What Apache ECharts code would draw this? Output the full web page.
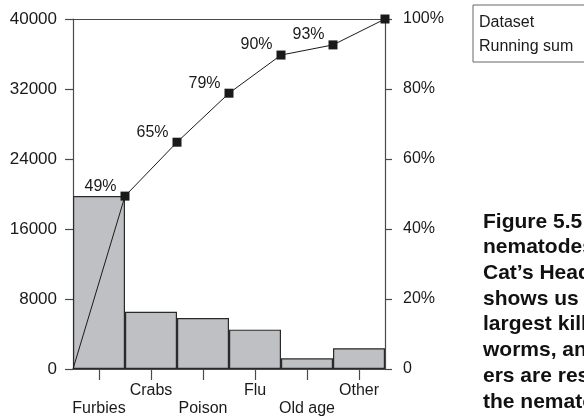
<!DOCTYPE html>
<html>
<head>
<meta charset="utf-8">
<script src="https://cdn.jsdelivr.net/npm/echarts@6/dist/echarts.min.js"></script>
<style>
html,body{margin:0;padding:0;background:#fff;}
#chart{width:584px;height:418px;}
</style>
</head>
<body>
<div id="chart"></div>
<script>
var categories = ['Furbies', 'Crabs', 'Poison', 'Flu', 'Old age', 'Other'];
var deaths = [19760, 6550, 5830, 4500, 1220, 2370];
var runningPct = [0, 49.4, 64.8, 78.8, 89.7, 92.6, 100];
var leftTicks = [0, 8000, 16000, 24000, 32000, 40000];
var rightTicks = ['0', '20%', '40%', '60%', '80%', '100%'];
var captionLines = [
  'Figure 5.5 The',
  'nematodes of',
  'Cat\u2019s Head Bay',
  'shows us that',
  'largest killer of',
  'worms, and that',
  'ers are respon-',
  'the nematode'
];

var FONT = 'Liberation Sans, Arial, Helvetica, sans-serif';
var AX = '#4a4a4a';
var TXT = '#1a1a1a';

var lineData = runningPct.map(function (v, i) {
  var d = { value: [i, v] };
  if (i === 0) { d.symbol = 'none'; d.label = { show: false }; }
  if (i === runningPct.length - 1) { d.label = { show: false }; }
  return d;
});

var chart = echarts.init(document.getElementById('chart'), null, { renderer: 'canvas' });
chart.setOption({
  animation: false,
  backgroundColor: '#fff',
  textStyle: { fontFamily: FONT, color: TXT },
  grid: { left: 73, right: 199, top: 19, bottom: 46, containLabel: false },
  legend: {
    orient: 'vertical',
    left: 473, top: 5,
    data: ['Dataset', 'Running sum'],
    itemWidth: 0, itemHeight: 0, itemGap: 7,
    padding: [9, 40, 7, 0],
    borderColor: '#666', borderWidth: 1,
    selectedMode: false,
    textStyle: { fontFamily: FONT, fontSize: 16, color: TXT, lineHeight: 17 }
  },
  xAxis: [{
    type: 'category',
    data: categories,
    position: 'bottom',
    boundaryGap: true,
    axisLine: { show: true, lineStyle: { color: AX, width: 1.2 } },
    axisTick: { show: true, alignWithLabel: true, length: 11, lineStyle: { color: AX, width: 1.2 } },
    axisLabel: {
      interval: 0, hideOverlap: false, margin: 13,
      fontFamily: FONT, fontSize: 16, color: TXT, lineHeight: 18,
      formatter: function (v, i) { return i % 2 === 0 ? '\n' + v : v; }
    },
    splitLine: { show: false }
  }, {
    type: 'value',
    position: 'top',
    min: 0, max: categories.length,
    axisLine: { show: true, onZero: false, lineStyle: { color: AX, width: 1.2 } },
    axisTick: { show: false },
    axisLabel: { show: false },
    splitLine: { show: false }
  }],
  yAxis: [{
    type: 'value',
    position: 'left',
    min: leftTicks[0], max: leftTicks[leftTicks.length - 1], interval: leftTicks[1] - leftTicks[0],
    axisLine: { show: true, lineStyle: { color: AX, width: 1.2 } },
    axisTick: { show: true, length: 8, lineStyle: { color: AX, width: 1.2 } },
    axisLabel: {
      margin: 16, fontFamily: FONT, fontSize: 17, color: TXT,
      formatter: function (v) { return String(v); }
    },
    splitLine: { show: false }
  }, {
    type: 'value',
    position: 'right',
    min: 0, max: 100, interval: 20,
    axisLine: { show: true, lineStyle: { color: AX, width: 1.2 } },
    axisTick: { show: true, length: 7, lineStyle: { color: AX, width: 1.2 } },
    axisLabel: {
      margin: 18, fontFamily: FONT, fontSize: 16, color: TXT,
      formatter: function (v) { return rightTicks[Math.round(v / 20)]; }
    },
    splitLine: { show: false }
  }],
  series: [{
    name: 'Dataset',
    type: 'bar',
    xAxisIndex: 0, yAxisIndex: 0,
    data: deaths,
    barWidth: '100%',
    barCategoryGap: '0%',
    itemStyle: { color: '#bfc0c3', borderColor: '#2a2a2a', borderWidth: 1.2 },
    z: 1
  }, {
    name: 'Running sum',
    type: 'line',
    xAxisIndex: 1, yAxisIndex: 1,
    data: lineData,
    symbol: 'rect', symbolSize: 9,
    itemStyle: { color: '#1a1a1a' },
    lineStyle: { color: '#1a1a1a', width: 1 },
    label: {
      show: true, position: 'left', distance: 4, offset: [0, -10],
      fontFamily: FONT, fontSize: 16, color: TXT,
      formatter: function (p) { return Math.round(p.value[1]) + '%'; }
    },
    z: 3
  }],
  graphic: [{
    type: 'text',
    left: 483, top: 209,
    style: {
      text: captionLines.join('\n'),
      font: 'bold 21px ' + FONT,
      fill: '#111',
      lineHeight: 25.7
    }
  }]
});
</script>
</body>
</html>
